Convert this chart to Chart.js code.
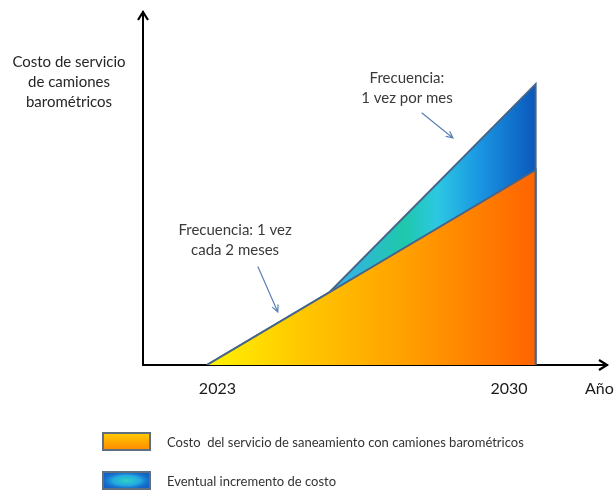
<!DOCTYPE html>
<html lang="es">
<head>
<meta charset="UTF-8">
<title>Costo de servicio de camiones barométricos</title>
<style>
  html, body { margin: 0; padding: 0; background: #ffffff; }
  #wrap { width: 616px; height: 492px; }
</style>
</head>
<body>
<div id="wrap"><canvas id="costChart" width="616" height="492"></canvas></div>

<script src="https://cdn.jsdelivr.net/npm/chart.js"></script>
<script>
// años marcados en el eje horizontal
const tickYears = [2023, 2030];

// costo base (servicio cada 2 meses)
const baseYears = [2023, 2030, 2030];
const baseCost = [0, 100, 0];

// costo con servicio mensual (eventual incremento)
const riseYears = [2023, 2025.6, 2030, 2030];
const riseCost = [0, 37.1, 144, 0];

const seriesLabels = [
    'Costo  del servicio de saneamiento con camiones barométricos',
    'Eventual incremento de costo'
];
const yTitle = ['Costo de servicio', 'de camiones', 'barométricos'];
const xTitle = 'Año';

// notas con flecha, en coordenadas (año, costo)
const notes = [
    { lines: ['Frecuencia:', '1 vez por mes'], at: [2027.26, 147.2], from: [2027.58, 129.2], to: [2028.24, 116.4] },
    { lines: ['Frecuencia: 1 vez', 'cada 2 meses'], at: [2023.6, 69.2], from: [2024.09, 50.3], to: [2024.51, 27.2] }
];

const FONT = 'Lato, "Open Sans", sans-serif';
const OUTLINE = '#46648a';

function toPoints(xs, ys) {
    return xs.map((x, i) => ({ x: x, y: ys[i] }));
}

function orangeFill(ctx) {
    const chart = ctx.chart;
    if (!chart.chartArea) return '#ffa000';
    const sx = chart.scales.x;
    const g = chart.ctx.createLinearGradient(sx.getPixelForValue(tickYears[0]), 0, sx.getPixelForValue(tickYears[1]), 0);
    g.addColorStop(0, '#fff200');
    g.addColorStop(0.3, '#ffc600');
    g.addColorStop(0.65, '#ff9a00');
    g.addColorStop(1, '#ff6400');
    return g;
}

function blueFill(ctx) {
    const chart = ctx.chart;
    if (!chart.chartArea) return '#1a98e2';
    const sx = chart.scales.x;
    const g = chart.ctx.createLinearGradient(sx.getPixelForValue(tickYears[0]), 0, sx.getPixelForValue(tickYears[1]), 0);
    g.addColorStop(0, '#3aa6e0');
    g.addColorStop(0.42, '#34b4e2');
    g.addColorStop(0.6, '#1ec8aa');
    g.addColorStop(0.7, '#2cc8e2');
    g.addColorStop(0.83, '#1a96e2');
    g.addColorStop(1, '#0a58bc');
    return g;
}

function drawArrow(c, x1, y1, x2, y2, head, color, width) {
    const a = Math.atan2(y2 - y1, x2 - x1);
    c.save();
    c.strokeStyle = color;
    c.lineWidth = width;
    c.lineCap = 'round';
    c.beginPath();
    c.moveTo(x1, y1);
    c.lineTo(x2, y2);
    c.moveTo(x2 - head * Math.cos(a - 0.45), y2 - head * Math.sin(a - 0.45));
    c.lineTo(x2, y2);
    c.lineTo(x2 - head * Math.cos(a + 0.45), y2 - head * Math.sin(a + 0.45));
    c.stroke();
    c.restore();
}

const decorations = {
    id: 'decorations',
    afterDraw(chart) {
        const c = chart.ctx;
        const area = chart.chartArea;
        const sx = chart.scales.x;
        const sy = chart.scales.y;

        // puntas de flecha de los ejes
        c.save();
        c.strokeStyle = '#000';
        c.lineWidth = 2.2;
        c.lineJoin = 'miter';
        c.beginPath();
        c.moveTo(area.left - 5, area.top + 8);
        c.lineTo(area.left, area.top);
        c.lineTo(area.left + 5, area.top + 8);
        c.moveTo(area.right - 8, area.bottom - 5);
        c.lineTo(area.right, area.bottom);
        c.lineTo(area.right - 8, area.bottom + 5);
        c.stroke();
        c.restore();

        // años del eje x
        c.save();
        c.fillStyle = '#1a1a1a';
        c.font = '16px ' + FONT;
        c.textBaseline = 'middle';
        tickYears.forEach((yr, i) => {
            const px = sx.getPixelForValue(yr);
            c.textAlign = i === 0 ? 'left' : 'right';
            c.fillText(String(yr), px - 8, area.bottom + 24);
        });
        c.textAlign = 'left';
        c.fillText(xTitle, area.right - 22, area.bottom + 24);
        c.restore();

        // título del eje y
        c.save();
        c.fillStyle = '#262626';
        c.font = '15px ' + FONT;
        c.textAlign = 'center';
        c.textBaseline = 'middle';
        yTitle.forEach((t, i) => c.fillText(t, 69, 62 + i * 20));
        c.restore();

        // notas
        notes.forEach(n => {
            c.save();
            c.fillStyle = '#3a3a3a';
            c.font = '15px ' + FONT;
            c.textAlign = 'center';
            c.textBaseline = 'middle';
            const tx = sx.getPixelForValue(n.at[0]);
            const ty = sy.getPixelForValue(n.at[1]);
            n.lines.forEach((t, i) => c.fillText(t, tx, ty + i * 20));
            c.restore();
            drawArrow(c, sx.getPixelForValue(n.from[0]), sy.getPixelForValue(n.from[1]),
                sx.getPixelForValue(n.to[0]), sy.getPixelForValue(n.to[1]), 7, '#5b82b5', 1.2);
        });

        // leyenda
        const boxX = 103, boxW = 47, boxH = 17;
        const rows = [433, 472];
        rows.forEach((top, i) => {
            c.save();
            let g;
            if (i === 0) {
                g = c.createLinearGradient(0, top, 0, top + boxH);
                g.addColorStop(0, '#ffcc00');
                g.addColorStop(1, '#ff8a00');
                c.fillStyle = g;
                c.fillRect(boxX, top, boxW, boxH);
            } else {
                c.fillStyle = '#1262c6';
                c.fillRect(boxX, top, boxW, boxH);
                c.save();
                c.beginPath();
                c.rect(boxX, top, boxW, boxH);
                c.clip();
                c.translate(boxX + boxW / 2, top + boxH / 2);
                c.scale(boxW / boxH, 1);
                g = c.createRadialGradient(0, 0, 0, 0, 0, boxH * 0.6);
                g.addColorStop(0, '#30d0c4');
                g.addColorStop(0.5, '#22a8e0');
                g.addColorStop(1, 'rgba(18,98,198,0)');
                c.fillStyle = g;
                c.fillRect(-boxH, -boxH, boxH * 2, boxH * 2);
                c.restore();
            }
            c.strokeStyle = '#5f6f80';
            c.lineWidth = 2;
            c.strokeRect(boxX, top, boxW, boxH);
            c.fillStyle = '#333';
            c.font = '13px ' + FONT;
            c.textAlign = 'left';
            c.textBaseline = 'middle';
            c.fillText(seriesLabels[i], 167, top + boxH / 2 + 1);
            c.restore();
        });
    }
};

new Chart(document.getElementById('costChart').getContext('2d'), {
    type: 'line',
    data: {
        datasets: [{
            label: seriesLabels[0],
            data: toPoints(baseYears, baseCost),
            borderColor: OUTLINE,
            borderWidth: 2,
            backgroundColor: orangeFill,
            fill: 'origin',
            tension: 0,
            pointRadius: 0
        }, {
            label: seriesLabels[1],
            data: toPoints(riseYears, riseCost),
            borderColor: OUTLINE,
            borderWidth: 2,
            backgroundColor: blueFill,
            fill: 'origin',
            tension: 0,
            pointRadius: 0
        }]
    },
    options: {
        responsive: false,
        animation: false,
        layout: { padding: { left: 143, top: 12, right: 9, bottom: 127 } },
        plugins: {
            legend: { display: false },
            tooltip: { enabled: false }
        },
        scales: {
            x: {
                type: 'linear',
                min: 2021.64,
                max: 2031.52,
                grid: { display: false, drawTicks: false },
                ticks: { display: false },
                border: { display: true, color: '#000', width: 2 }
            },
            y: {
                type: 'linear',
                min: 0,
                max: 181,
                grid: { display: false, drawTicks: false },
                ticks: { display: false },
                border: { display: true, color: '#000', width: 2 }
            }
        }
    },
    plugins: [decorations]
});
</script>
</body>
</html>
